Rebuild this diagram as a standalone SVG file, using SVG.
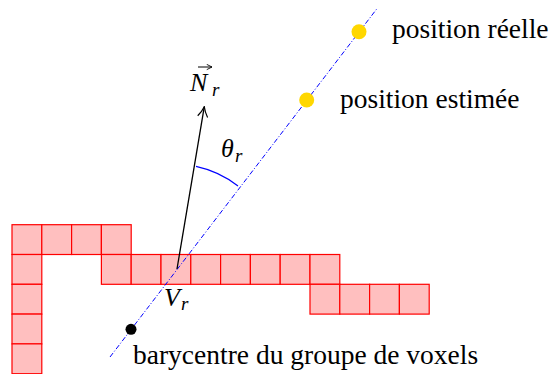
<svg xmlns="http://www.w3.org/2000/svg" width="552" height="374" viewBox="0 0 552 374">
<style>
.v{fill:#ffbfbf;stroke:#ff0000;stroke-width:1.2}
.t{font-size:27.5px;fill:#000}
.m{font-style:italic;fill:#000}
.axis{stroke:#0000ff;stroke-width:1;fill:none;stroke-dasharray:5 2 1 2}
</style>
<defs>
<marker id="ah" viewBox="0 0 12 12" refX="11" refY="6" markerWidth="12" markerHeight="12" markerUnits="userSpaceOnUse" orient="auto">
<path d="M1,1 Q6,4.5 11,6 Q6,7.5 1,11" fill="none" stroke="#000" stroke-width="1.2"/>
</marker>
<marker id="ah2" viewBox="0 0 8 8" refX="7" refY="4" markerWidth="7" markerHeight="7" markerUnits="userSpaceOnUse" orient="auto">
<path d="M1,1 L7,4 L1,7" fill="none" stroke="#000" stroke-width="1"/>
</marker>
</defs>
<g id="voxels">
<rect class="v" x="12" y="224.7" width="29.8" height="29.8"/>
<rect class="v" x="41.8" y="224.7" width="29.8" height="29.8"/>
<rect class="v" x="71.6" y="224.7" width="29.8" height="29.8"/>
<rect class="v" x="101.4" y="224.7" width="29.8" height="29.8"/>
<rect class="v" x="12" y="254.5" width="29.8" height="29.8"/>
<rect class="v" x="101.4" y="254.5" width="29.8" height="29.8"/>
<rect class="v" x="131.2" y="254.5" width="29.8" height="29.8"/>
<rect class="v" x="161" y="254.5" width="29.8" height="29.8"/>
<rect class="v" x="190.8" y="254.5" width="29.8" height="29.8"/>
<rect class="v" x="220.6" y="254.5" width="29.8" height="29.8"/>
<rect class="v" x="250.4" y="254.5" width="29.8" height="29.8"/>
<rect class="v" x="280.2" y="254.5" width="29.8" height="29.8"/>
<rect class="v" x="310" y="254.5" width="29.8" height="29.8"/>
<rect class="v" x="12" y="284.3" width="29.8" height="29.8"/>
<rect class="v" x="310" y="284.3" width="29.8" height="29.8"/>
<rect class="v" x="339.8" y="284.3" width="29.8" height="29.8"/>
<rect class="v" x="369.6" y="284.3" width="29.8" height="29.8"/>
<rect class="v" x="399.4" y="284.3" width="29.8" height="29.8"/>
<rect class="v" x="12" y="314.1" width="29.8" height="29.8"/>
<rect class="v" x="12" y="343.9" width="29.8" height="29.8"/>
</g>
<g id="connectors">
<line id="axis" class="axis" x1="110" y1="357" x2="376.7" y2="9"/>
<line id="normal" x1="177" y1="269" x2="204.3" y2="106.7" stroke="#000" stroke-width="1.3" marker-end="url(#ah)"/>
<path id="angle" d="M196,166.4 A104,104 0 0 1 238,186" fill="none" stroke="#0000ff" stroke-width="1.1"/>
</g>
<g font-family="Liberation Serif, Tinos, Times New Roman, DejaVu Serif, serif">
<g id="pos-reelle">
<circle cx="359" cy="31.7" r="7.5" fill="#ffd700"/>
<text class="t" x="392" y="38">position réelle</text>
</g>
<g id="pos-estimee">
<circle cx="306.7" cy="100" r="7.5" fill="#ffd700"/>
<text class="t" x="340" y="108">position estimée</text>
</g>
<g id="barycentre">
<circle cx="131" cy="329.3" r="5.5" fill="#000"/>
<text class="t" x="133" y="364">barycentre du groupe de voxels</text>
</g>
<g id="label-N">
<line x1="198" y1="67" x2="212" y2="67" stroke="#000" stroke-width="1" marker-end="url(#ah2)"/>
<text class="m" x="190" y="91" font-size="26">N</text>
<text class="m" x="212" y="96" font-size="19">r</text>
</g>
<g id="label-theta">
<text class="m" x="221" y="157" font-size="26">θ</text>
<text class="m" x="235" y="162" font-size="19">r</text>
</g>
<g id="label-V">
<text class="m" x="164" y="306" font-size="26">V</text>
<text class="m" x="181" y="310" font-size="19">r</text>
</g>
</g>
</svg>
